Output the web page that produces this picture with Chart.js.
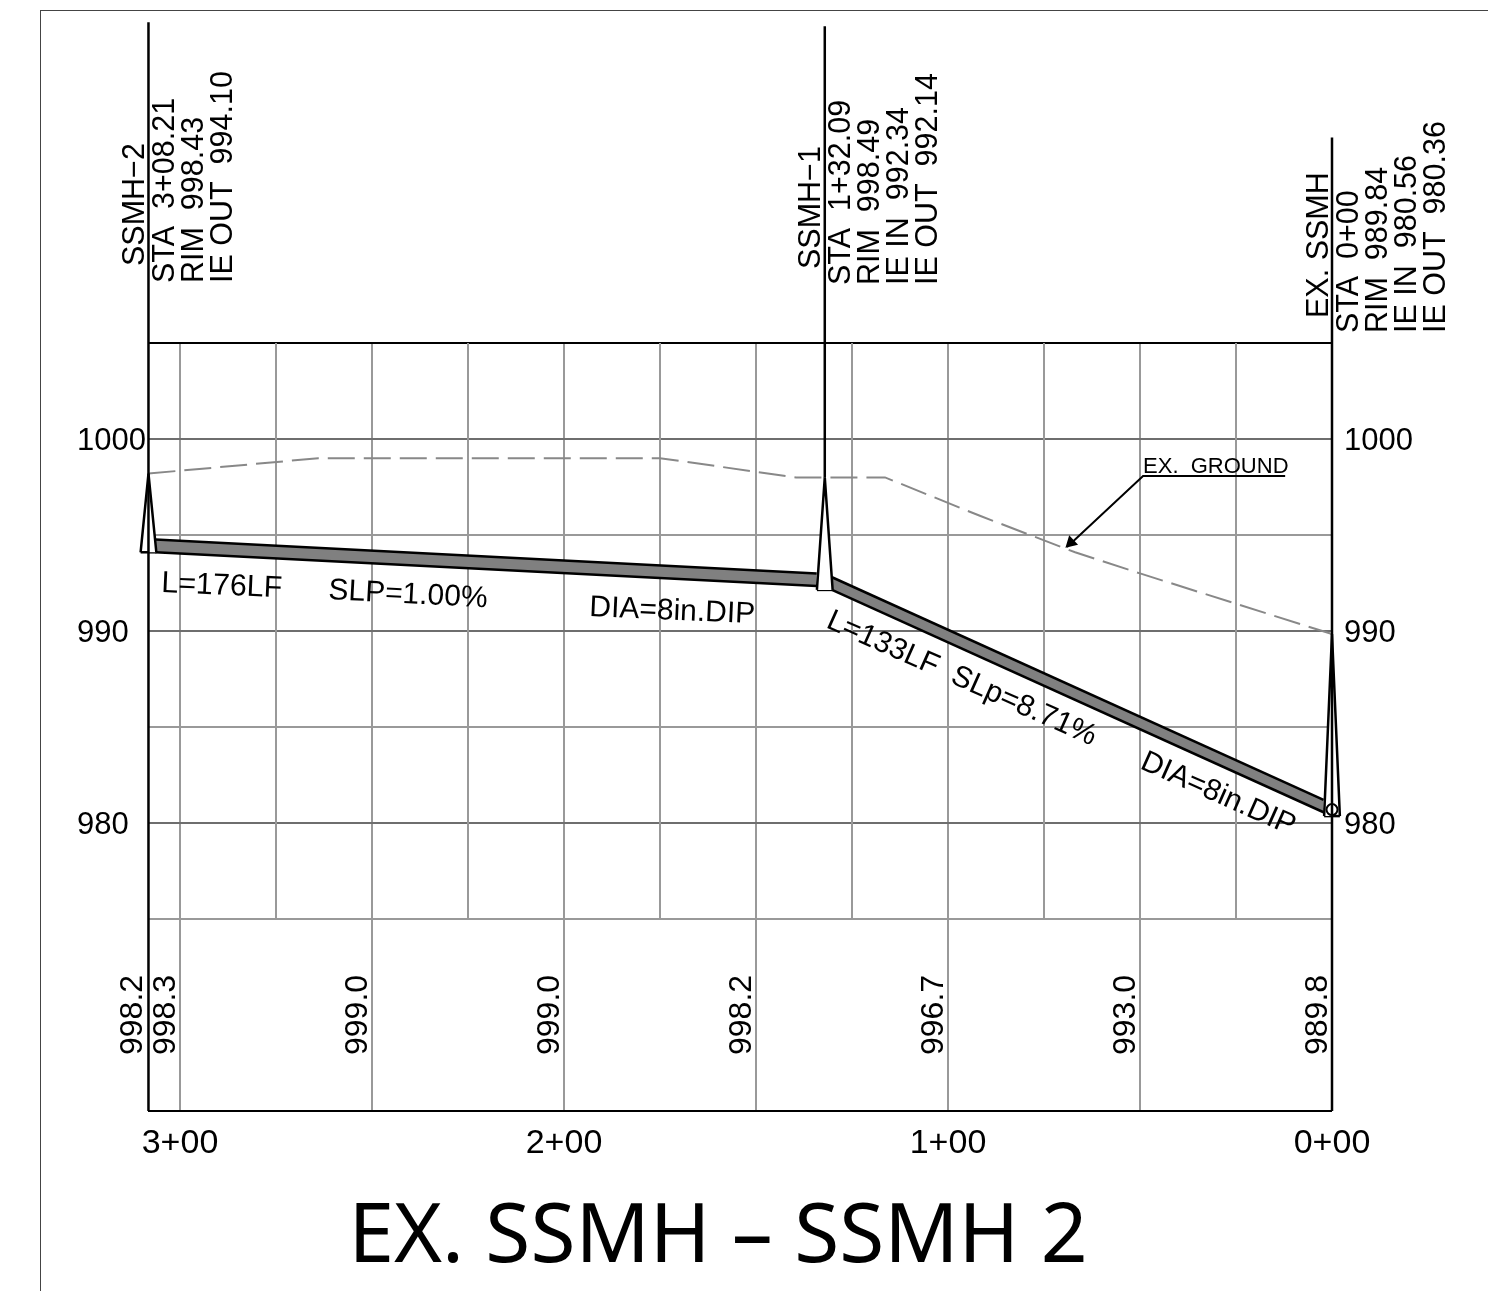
<!DOCTYPE html>
<html><head><meta charset="utf-8">
<style>
html,body{margin:0;padding:0;background:#fff;width:1488px;height:1291px;overflow:hidden}
#frame{position:absolute;left:40px;top:10px;right:0;bottom:0;border-left:1px solid #444;border-top:1px solid #444}
canvas{position:absolute;left:0;top:0}
</style>
<script src="https://cdn.jsdelivr.net/npm/chart.js@4"></script>
</head><body><div id="frame"></div><canvas id="c" width="1488" height="1291"></canvas>
<script>
// ---- data (stations in ft, elevations in ft) ----
const groundStations = [308.21,264,175,139.6,116.4,91.7,66.9,50,0];
const groundElevations = [998.2,999.0,999.0,998.0,998.0,996.0,994.1,993.0,989.84];
const pipe1Stations = [306.4,134.2];
const pipe1Top = [994.77,993.0];
const pipe1Bottom = [994.1,992.34];
const pipe2Stations = [130.2,2.2];
const pipe2Top = [992.8,981.2];
const pipe2Bottom = [992.14,980.56];
const mhStations = [308.21,132.09,0];
const mhRims = [998.2,998.0,989.84];
const mhBases = [994.1,992.14,980.36];
const mhHalfWidth = 2.05;
const leaderTops = [1021.7,1021.5,1015.7];
const shortGridStations = [275,225,175,125,75,25];
const gridStations = [300,250,200,150,100,50,0];
const xLabelStations = {300:'3+00',200:'2+00',100:'1+00',0:'0+00'};
const yTicks = [1005,1000,995,990,985,980,975,965];
const yLabels = [1000,990,980];
const profileStations = [300,250,200,150,100,50,0];
const profileLabels = ['998.3','999.0','999.0','998.2','996.7','993.0','989.8'];
const startProfileLabel = '998.2';
const columns = [
 {sta:308.21,lines:['SSMH\u22122','STA  3+08.21','RIM  998.43','IE OUT  994.10']},
 {sta:132.09,lines:['SSMH\u22121','STA  1+32.09','RIM  998.49','IE IN  992.34','IE OUT  992.14']},
 {sta:0,lines:['EX. SSMH','STA  0+00','RIM  989.84','IE IN  980.56','IE OUT  980.36']}
];
const pipeNotes = ['L=176LF','SLP=1.00%','DIA=8in.DIP','L=133LF  SLp=8.71%','DIA=8in.DIP'];
const groundNote = 'EX.  GROUND';
const groundNoteLine = {sta:[12.2,49.2,69.0],elev:[998.07,998.07,994.375]};
const titleText = 'EX. SSMH \u2013 SSMH 2';

// ---- helpers ----
const pts=(xs,ys)=>xs.map((x,i)=>({x,y:ys[i]}));
const BLACK='#000', GRID='#999', GRID2='#6e6e6e';
const ds=[];
const line=(data,o)=>ds.push(Object.assign({type:'line',data,borderColor:BLACK,borderWidth:2.5,pointRadius:0,fill:false,clip:false,tension:0,order:5},o));

// manholes
mhStations.forEach((s,i)=>{
 line(pts([s+mhHalfWidth,s,s-mhHalfWidth],[mhBases[i],mhRims[i],mhBases[i]]),{backgroundColor:'#fff',fill:{value:mhBases[i]},order:2});
 line(pts([s+mhHalfWidth,s-mhHalfWidth],[mhBases[i],mhBases[i]]),{order:2});
});
// station leaders
line(pts([308.21,308.21],[leaderTops[0],965]),{order:1});
line(pts([132.09,132.09],[leaderTops[1],mhRims[1]]),{order:1});
line(pts([0,0],[leaderTops[2],965]),{order:1});
// invert circle
line([{x:0,y:980.7}],{showLine:false,pointRadius:5.5,pointBorderColor:BLACK,pointBorderWidth:2,pointBackgroundColor:'rgba(0,0,0,0)',order:0});
// pipes
[[pipe1Stations,pipe1Top,pipe1Bottom],[pipe2Stations,pipe2Top,pipe2Bottom]].forEach(([s,t,b])=>{
 line(pts(s,t),{order:3});
 line(pts(s,b),{order:3,fill:'-1',backgroundColor:'#808080'});
 line(pts(s,b.map((v,i)=>v+0.2)),{order:3,borderColor:'#a8a8a8',borderWidth:1});
});
// ground
line(pts(groundStations,groundElevations),{borderColor:'#888',borderWidth:2,borderDash:[27,9],order:4});
// note leader
line(pts(groundNoteLine.sta,groundNoteLine.elev),{borderWidth:2,order:4});
line([{x:68,y:994.6}],{showLine:false,pointStyle:'triangle',pointRadius:5,pointRotation:227,pointBackgroundColor:BLACK,pointBorderColor:BLACK,order:4});
// short grid lines
shortGridStations.forEach(s=>line(pts([s,s],[975,1005]),{borderColor:GRID,borderWidth:2,order:9}));

const SANS='"Liberation Sans",Arial,sans-serif';
const textPlugin={id:'cadText',
 afterLayout(ch){ch.titleBlock.left=0;ch.titleBlock.right=1436;},
 afterDatasetsDraw(ch){
 const {ctx,scales:{x,y}}=ch;
 ctx.save();ctx.fillStyle='#000';ctx.textBaseline='alphabetic';ctx.textAlign='left';
 const put=(t,px,py,deg,size)=>{ctx.save();ctx.translate(px,py);ctx.rotate(deg*Math.PI/180);ctx.font=size+'px '+SANS;ctx.fillText(t,0,0);ctx.restore();};
 const colStart=[[266,283],[269,285],[318,333]];
 columns.forEach((c,ci)=>{
  const px=x.getPixelForValue(c.sta);
  c.lines.forEach((t,i)=>put(t,px-4.5+(i?1:0)+i*29,colStart[ci][i?1:0],-90,30.5));
 });
 profileStations.forEach((s,i)=>put(profileLabels[i],x.getPixelForValue(s)-5,1055,-90,32));
 put(startProfileLabel,x.getPixelForValue(308.21)-6,1055,-90,32);
 const notes=[[pipeNotes[0],161,592,2.5,30.4],[pipeNotes[1],328,599,3,30],[pipeNotes[2],589,616,2.5,30],[pipeNotes[3],825,627,24,30],[pipeNotes[4],1139,768,24,30]];
 notes.forEach(n=>put(n[0],n[1],n[2],n[3],n[4]));
 put(groundNote,x.getPixelForValue(49.2),y.getPixelForValue(998.25),0,22);
 ctx.restore();
}};

const yTickLabel=v=>yLabels.includes(v)?['',String(v)]:'';
new Chart(document.getElementById('c'),{
 data:{datasets:ds},
 plugins:[textPlugin],
 options:{
  responsive:false,animation:false,devicePixelRatio:1,
  layout:{padding:{top:343,left:77,right:52,bottom:0}},
  plugins:{legend:{display:false},tooltip:{enabled:false},
   title:{display:true,text:titleText,position:'bottom',color:'#000',font:{family:'"Noto Sans"',size:82,weight:'normal',lineHeight:1.2},padding:{top:8,bottom:3.6}}},
  scales:{
   x:{type:'linear',reverse:true,min:0,max:1184/3.84,
    afterBuildTicks(s){s.ticks=gridStations.map(v=>({value:v}));},
    afterFit(s){s.height=70;},
    grid:{color:GRID,lineWidth:2,drawTicks:false},border:{display:false},
    ticks:{autoSkip:false,maxRotation:0,padding:12,color:'#000',font:{family:SANS,size:34},callback:v=>xLabelStations[v]||''}},
   y:{type:'linear',position:'left',min:965,max:1005,
    afterBuildTicks(s){s.ticks=yTicks.map(v=>({value:v}));},
    afterFit(s){s.width=71;},
    grid:{drawTicks:false,lineWidth:2,color:c=>{const v=c.tick&&c.tick.value;return (v===1005||v===965)?BLACK:yLabels.includes(v)?GRID2:GRID;}},border:{display:false},
    ticks:{autoSkip:false,crossAlign:'far',padding:3,color:'#000',font:{family:SANS,size:31,lineHeight:4/31},callback:yTickLabel}},
   y2:{type:'linear',position:'right',min:965,max:1005,
    afterBuildTicks(s){s.ticks=yTicks.map(v=>({value:v}));},
    afterFit(s){s.width=104;},
    grid:{display:false,drawTicks:false},border:{display:false},
    ticks:{autoSkip:false,padding:12,color:'#000',font:{family:SANS,size:31,lineHeight:4/31},callback:yTickLabel}}
  }
 }
});
</script></body></html>
